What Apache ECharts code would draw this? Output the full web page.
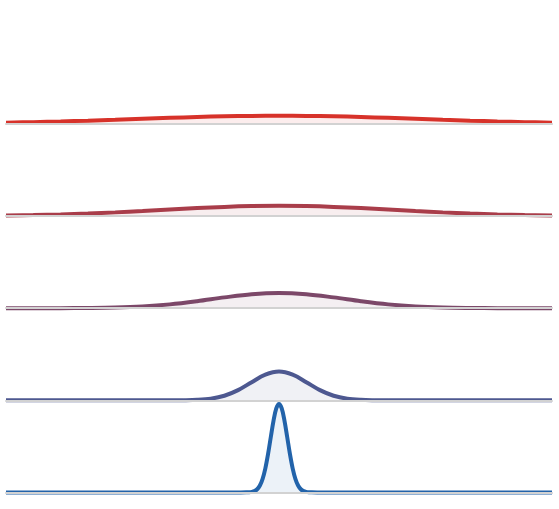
<!DOCTYPE html>
<html>
<head>
<meta charset="utf-8">
<script src="https://cdn.jsdelivr.net/npm/echarts@6/dist/echarts.min.js"></script>
<style>
html,body{margin:0;padding:0;background:#fff;}
#chart{width:559px;height:509px;}
</style>
</head>
<body>
<div id="chart"></div>
<script>
// x positions (shared value axis from -5 to 5)
const xWide = [-5,-4.5,-4,-3.5,-3,-2.5,-2,-1.5,-1,-0.5,0,0.5,1,1.5,2,2.5,3,3.5,4,4.5,5];
const xMedium = [-5,-4,-3,-2.5,-2,-1.75,-1.5,-1.25,-1,-0.75,-0.5,-0.25,0,0.25,0.5,0.75,1,1.25,1.5,1.75,2,2.5,3,4,5];
const xNarrow = [-5,-4,-3,-2,-1,-0.8,-0.7,-0.6,-0.55,-0.5,-0.45,-0.4,-0.35,-0.3,-0.25,-0.2,-0.15,-0.1,-0.05,0,0.05,0.1,0.15,0.2,0.25,0.3,0.35,0.4,0.45,0.5,0.55,0.6,0.7,0.8,1,2,3,4,5];

// series values (density curves), top to bottom
const ridge1 = [0.039,0.056,0.076,0.101,0.128,0.157,0.185,0.211,0.231,0.244,0.249,0.244,0.231,0.211,0.185,0.157,0.128,0.101,0.076,0.056,0.039];
const ridge2 = [0.018,0.031,0.051,0.077,0.112,0.153,0.197,0.240,0.277,0.301,0.310,0.301,0.277,0.240,0.197,0.153,0.112,0.077,0.051,0.031,0.018];
const ridge3 = [0,0,0.002,0.007,0.020,0.053,0.115,0.211,0.325,0.422,0.460,0.422,0.325,0.211,0.115,0.053,0.020,0.007,0.002,0,0];
const ridge4 = [0,0,0,0,0.001,0.003,0.013,0.048,0.136,0.305,0.544,0.769,0.863,0.769,0.544,0.305,0.136,0.048,0.013,0.003,0.001,0,0,0,0];
const ridge5 = [0,0,0,0,0,0,0,0.002,0.005,0.015,0.039,0.095,0.208,0.409,0.724,1.157,1.665,2.160,2.525,2.660,2.525,2.160,1.665,1.157,0.724,0.409,0.208,0.095,0.039,0.015,0.005,0.002,0,0,0,0,0,0,0];

const colors = ['#d7322a','#a93d4a','#7c4869','#4d5890','#2263aa'];
const ridgeX = [xWide, xWide, xWide, xMedium, xNarrow];
const ridgeY = [ridge1, ridge2, ridge3, ridge4, ridge5];

const baselines = [124, 216.1, 308.2, 400.3, 492.4];
const panelH = 89.8;
const yMax = 2.7;

const grids = [], xAxes = [], yAxes = [], series = [];
function hexToRgba(h, a){
  const r = parseInt(h.slice(1,3),16), g = parseInt(h.slice(3,5),16), b = parseInt(h.slice(5,7),16);
  return 'rgba(' + r + ',' + g + ',' + b + ',' + a + ')';
}
for (let i = 0; i < 5; i++) {
  grids.push({left: 6, right: 7, top: baselines[i] - panelH, height: panelH});
  xAxes.push({
    type: 'value', gridIndex: i, min: -5, max: 5, z: 10,
    axisLine: {show: true, onZero: false, lineStyle: {color: '#d2d2d2', width: 2}},
    axisTick: {show: false}, axisLabel: {show: false}, splitLine: {show: false}
  });
  yAxes.push({
    type: 'value', gridIndex: i, min: 0, max: yMax, show: false,
    splitLine: {show: false}
  });
  series.push({
    type: 'line', xAxisIndex: i, yAxisIndex: i,
    data: ridgeX[i].map((x, k) => [x, ridgeY[i][k]]),
    smooth: 0.35, showSymbol: false, symbol: 'none', clip: false,
    lineStyle: {color: colors[i], width: 4},
    areaStyle: {color: hexToRgba(colors[i], 0.12)},
    silent: true, animation: false
  });
}

const chart = echarts.init(document.getElementById('chart'), null, {renderer: 'canvas'});
chart.setOption({
  animation: false,
  backgroundColor: '#ffffff',
  grid: grids,
  xAxis: xAxes,
  yAxis: yAxes,
  series: series
});
</script>
</body>
</html>
